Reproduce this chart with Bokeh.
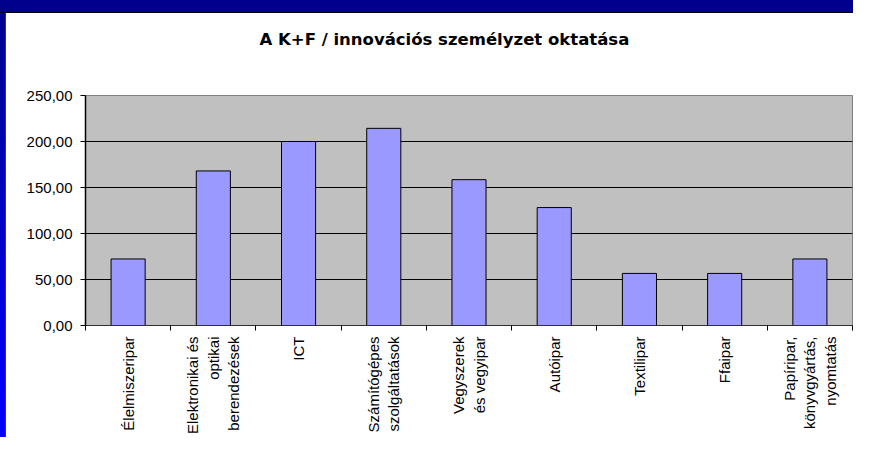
import math
from bokeh.plotting import figure
from bokeh.models import FixedTicker, Range1d, Title
from bokeh.embed import file_html
from bokeh.resources import INLINE

title_text = "A K+F / innovációs személyzet oktatása"
categories = [
    "Élelmiszeripar",
    "Elektronikai és\noptikai\nberendezések",
    "ICT",
    "Számítógépes\nszolgáltatások",
    "Vegyszerek\nés vegyipar",
    "Autóipar",
    "Textilipar",
    "Ffaipar",
    "Papíripar,\nkönyvgyártás,\nnyomtatás",
]
values = [72.3, 168.0, 200.0, 214.3, 158.5, 128.2, 56.6, 56.6, 72.3]
y_ticks = [0, 50, 100, 150, 200, 250]
y_tick_labels = ["0,00", "50,00", "100,00", "150,00", "200,00", "250,00"]

n = len(categories)
xs = [i + 0.5 for i in range(n)]
bounds = [float(i) for i in range(n + 1)]

slide_bg = (
    "linear-gradient(to bottom, #00008C 0px, #00008C 12px, #000000 12px, #000000 13px, transparent 13px), "
    "linear-gradient(to right, transparent 0px, transparent 5px, #3a3a3a 5px, #3a3a3a 6px, #ffffff 6px), "
    "linear-gradient(to bottom, #00008C 0%, #0000FF 100%)"
)

p = figure(
    width=853, height=437, title=None,
    x_range=Range1d(0, n), y_range=Range1d(y_ticks[0], y_ticks[-1]),
    output_backend="svg", toolbar_location=None,
    min_border_left=85, min_border_right=1, min_border_top=95, min_border_bottom=106,
    background_fill_color="#C0C0C0", border_fill_color=None,
    outline_line_color="#808080", outline_line_width=1,
    styles={"background": slide_bg},
)

p.vbar(x=xs, top=values, width=0.4, fill_color="#9999FF", line_color="black", line_width=1)

# spacer between chart title and plot area, then the chart title
spacer = Title(text=" ", text_font_size="1px", standoff=44)
p.add_layout(spacer, "above")
main_title = Title(text=title_text, text_font="DejaVu Sans", text_font_size="16.5px",
                   text_font_style="bold", text_color="black", align="left",
                   offset=174, standoff=0)
p.add_layout(main_title, "above")

# x axis
xa = p.xaxis[0]
xa.ticker = FixedTicker(ticks=xs, minor_ticks=bounds)
xa.major_label_overrides = {x: c for x, c in zip(xs, categories)}
xa.major_label_orientation = math.pi / 2
xa.major_label_text_align = "center"
xa.major_tick_in = 0
xa.major_tick_out = 0
xa.minor_tick_in = 0
xa.minor_tick_out = 5
xa.minor_tick_line_color = "black"
xa.axis_line_color = "#303030"
xa.major_label_standoff = 6
xa.major_label_text_font = "Liberation Sans"
xa.major_label_text_font_size = "15px"
xa.major_label_text_color = "black"

# y axis
ya = p.yaxis[0]
ya.ticker = FixedTicker(ticks=y_ticks)
ya.major_label_overrides = {v: lab for v, lab in zip(y_ticks, y_tick_labels)}
ya.major_tick_in = 0
ya.major_tick_out = 5
ya.minor_tick_line_color = None
ya.axis_line_color = "black"
ya.axis_line_width = 1.5
ya.major_tick_line_color = "black"
ya.major_label_standoff = 8
ya.major_label_text_font = "Liberation Sans"
ya.major_label_text_font_size = "15px"
ya.major_label_text_color = "black"

# grid
p.xgrid.visible = False
p.ygrid.ticker = FixedTicker(ticks=y_ticks[1:-1])
p.ygrid.grid_line_color = "black"
p.ygrid.grid_line_width = 1

open("out.html", "w").write(file_html(p, INLINE))
